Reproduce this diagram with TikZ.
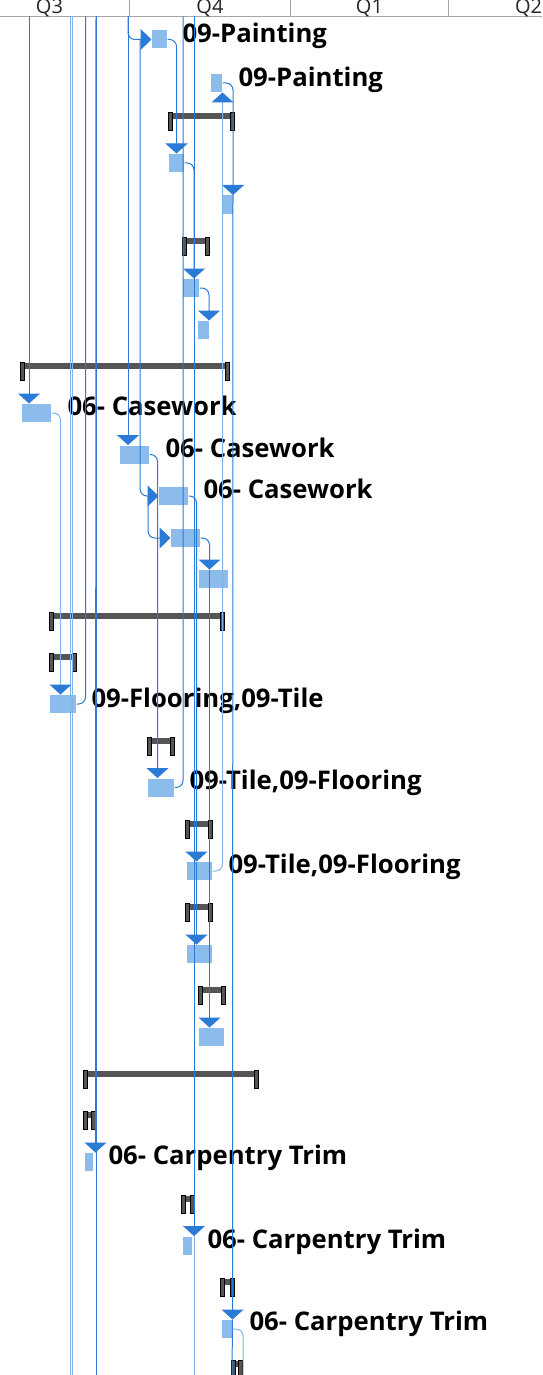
\documentclass[tikz,border=0pt]{standalone}
\usepackage{fontspec}
\setmainfont{Open Sans}
\usetikzlibrary{arrows.meta}
\definecolor{barblue}{HTML}{8CBCEC}
\definecolor{linkblue}{HTML}{2B7BD6}
\definecolor{linklight}{HTML}{7EB4EC}
\definecolor{sumgray}{HTML}{555555}
\definecolor{gridgray}{HTML}{A6A6A6}
\tikzset{
every picture/.style={
line width=1pt, x=1pt, y=-1pt
},
taskbar/.style={fill=barblue, inner sep=0pt, minimum height=18pt},
tasklabel/.style={anchor=base west, inner sep=0pt, font=\fontsize{25.7}{26}\selectfont\bfseries},
qlabel/.style={anchor=base, inner sep=0pt, text=black!85, font=\fontsize{20}{20}\selectfont},
link/.style={draw=linkblue, rounded corners=7pt},
linklt/.style={draw=linklight, rounded corners=7pt},
endtip/.style={-{Triangle[length=10pt,width=22pt,color=linkblue]}},
sidetip/.style={-{Triangle[length=11pt,width=21pt,color=linkblue]}},
sumcap/.style={fill=sumgray, draw=black, line width=0.8pt}
}

\begin{document}
\begin{tikzpicture}
  \useasboundingbox (0,0) rectangle (542,1375);
  \clip (0,0) rectangle (542,1375);

  % timescale
  \draw[gridgray] (0,16.5) -- (542,16.5);
  \foreach \x in {129.5,290.5,448.5}{
    \draw[gridgray] (\x,0) -- (\x,16.5);
  }
  \foreach \q/\x in {Q3/49.5,Q4/210,Q1/369.5,Q2/528.5}{
    \node[qlabel] (h\q) at (\x,13.2) {\q};
  }
  \foreach \x/\n in {29/a,70.5/b,72/c,85.5/d,96/e,128/f,183/g,194/h}{
    \coordinate (top\n) at (\x,16.5);
    \coordinate (bot\n) at (\x,1375);
  }
  \coordinate (botj) at (232,1375);
  \coordinate (botk) at (243,1375);
  \coordinate (j1) at (140,39.5);
  \coordinate (j2) at (148,496);

  % labels
  \node[tasklabel] (l1) at (182,43) {09-Painting};
  \node[tasklabel] (l2) at (238,86.5) {09-Painting};
  \node[tasklabel] (l10) at (67,415) {06- Casework};
  \node[tasklabel] (l11) at (165,457) {06- Casework};
  \node[tasklabel] (l12) at (203,498) {06- Casework};
  \node[tasklabel] (l17) at (91,707) {09-Flooring,09-Tile};
  \node[tasklabel] (l19) at (189,789) {09-Tile,09-Flooring};
  \node[tasklabel] (l21) at (228,873) {09-Tile,09-Flooring};
  \node[tasklabel] (l28) at (108,1164) {06- Carpentry Trim};
  \node[tasklabel] (l30) at (207,1248) {06- Carpentry Trim};
  \node[tasklabel] (l32) at (249,1330) {06- Carpentry Trim};

  % tasks
  \node[taskbar, minimum width=15pt] (t1) at (159.5,39.5) {};
  \node[taskbar, minimum width=11pt] (t2) at (216.5,83) {};
  \node[taskbar, minimum width=15pt] (t4) at (176.5,163) {};
  \node[taskbar, minimum width=11pt] (t5) at (227,204.5) {};
  \node[taskbar, minimum width=16pt] (t7) at (191,288) {};
  \node[taskbar, minimum width=10.5pt] (t8) at (203.25,330) {};
  \node[taskbar, minimum width=29pt] (t10) at (36.5,413) {};
  \node[taskbar, minimum width=29pt] (t11) at (134.5,454.5) {};
  \node[taskbar, minimum width=29pt] (t12) at (173.5,496) {};
  \node[taskbar, minimum width=29pt] (t13) at (185.5,538) {};
  \node[taskbar, minimum width=29pt] (t14) at (213.5,579) {};
  \node[taskbar, minimum width=26pt] (t17) at (63,704) {};
  \node[taskbar, minimum width=26pt] (t19) at (161,787.5) {};
  \node[taskbar, minimum width=25pt] (t21) at (199.5,871) {};
  \node[taskbar, minimum width=25pt] (t23) at (199.5,954) {};
  \node[taskbar, minimum width=25pt] (t25) at (211.5,1037) {};
  \node[taskbar, minimum width=8pt] (t28) at (89,1162) {};
  \node[taskbar, minimum width=9pt] (t30) at (187.5,1245.5) {};
  \node[taskbar, minimum width=10pt] (t32) at (227,1329) {};

  % summary tasks
  \foreach \xa/\xb/\yt in {168/234/112,182/209/237,20/229/362,49/224/612,49/76/653,
      147/174/737,185/212/820,185/212/903,198/225/986,83/258/1070,83/95/1111,
      181/194/1195,220/234/1278,231/242/1360}{
    \fill[sumgray] (\xa,\yt+1) rectangle (\xb,\yt+7);
    \draw[sumcap] (\xa,\yt) rectangle ++(4,18);
    \draw[sumcap] (\xb,\yt) rectangle ++(-4,18);
  }

  % links
  \draw[linklt] (topb) -- (botb);
  \draw[linklt] (topc) -- (botc);
  \draw[link] (tope) -- (bote);
  \draw[link, endtip] (topa) -- (t10.north -| topa);
  \draw[link, endtip] (tope) -- ([xshift=11pt]t28.north west);
  \draw[link, sidetip] (topf) |- (t1.west);
  \draw[link, endtip] (topf) -- (t11.north -| topf);
  \draw[link, sidetip] (j1) |- (t12.west);
  \draw[link, sidetip] (j2) |- (t13.west);
  \draw[link, endtip] (t1.east) -| (t4.north);
  \draw[link, endtip] (t2.east) -| (t5.north east);
  \draw[link, endtip] (t5.north east) -- (t32.north east);
  \draw[link] (t32.north east) -- (botj);
  \draw[linklt, endtip] (t21.east) -| (t2.south east);
  \draw[link, endtip] (toph) -- (t30.north -| toph);
  \draw[linklt] (t30.north -| toph) -- (both);
  \draw[link, endtip] (t4.east) -| (t7.north -| toph);
  \draw[link, endtip] (t7.east) -| (t8.north east);
  \draw[linklt, endtip] (t10.east) -| ([xshift=11pt]t17.north west);
  \draw[link, endtip] (t11.east) -| ([xshift=10pt]t19.north west);
  \draw[link, endtip] (t12.east) -| ([xshift=10pt]t21.north west);
  \draw[link, endtip] ([xshift=10pt]t21.north west) -- ([xshift=10pt]t23.north west);
  \draw[link, endtip] (t13.east) -| ([xshift=11pt]t14.north west);
  \draw[link, endtip] ([xshift=11pt]t14.north west) -- ([xshift=11pt]t25.north west);
  \draw[link] (t17.east) -| (topd);
  \draw[link] (t19.east) -| (topg);
  \draw[linklt] (t32.east) -| (botk);
\end{tikzpicture}
\end{document}
